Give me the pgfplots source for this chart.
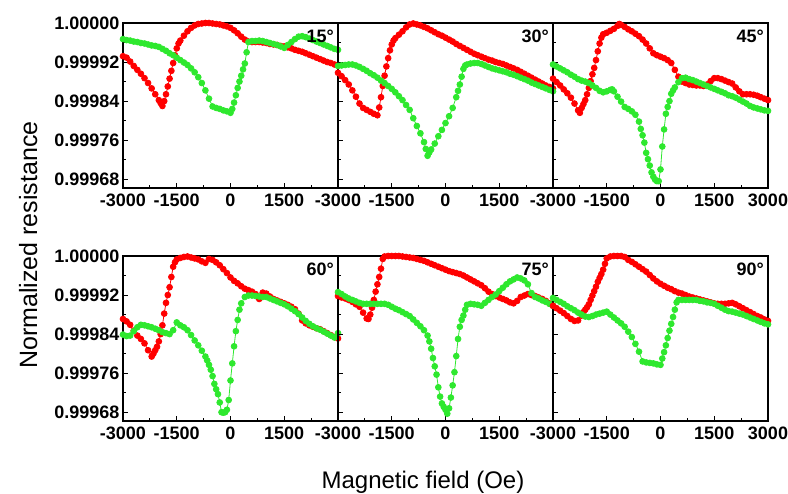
\documentclass[border=0pt]{standalone}
\usepackage{fontspec}
\setmainfont{Liberation Sans}
\usepackage{pgfplots}
\pgfplotsset{compat=1.18}
\definecolor{rr}{HTML}{FF0000}
\definecolor{gg}{HTML}{2EE82E}

% y values: (R - 1) in units of 1e-5, so 0 = 1.00000 and -8 = 0.99992
\pgfplotsset{
  panel/.style={scale only axis, width=215pt, height=165pt, anchor=south west,
    xmin=-3000, xmax=3000, ymin=-33.8, ymax=0,
    xtick={-3000,-1500,0,1500,3000}, minor x tick num=1,
    ytick={-32,-24,-16,-8,0}, minor y tick num=1,
    xticklabels={-3000,-1500,0,1500,{}}, yticklabels={},
    xtick pos=left, ytick pos=left, tick align=inside,
    major tick length=5pt, minor tick length=3pt,
    every tick/.style={black, line width=1pt},
    axis line style={line width=1.3pt},
    ticklabel style={font=\bfseries\fontsize{18}{18}\selectfont},
    xticklabel style={yshift=-2pt},
    every axis plot/.append style={line width=0.8pt, mark=*, mark size=2.9pt},
  },
  lefty/.style={yticklabels={0.99968,0.99976,0.99984,0.99992,1.00000}},
  rightx/.style={xticklabels={-3000,-1500,0,1500,3000}},
}
\tikzset{ang/.style={anchor=north east, inner sep=0pt, xshift=-4pt, yshift=-7pt,
    font=\bfseries\fontsize{18}{18}\selectfont}}

\begin{document}
\begin{tikzpicture}
\useasboundingbox (0pt,0pt) rectangle (788pt,494pt);

% 15 deg
\begin{axis}[panel, lefty, at={(123pt,306pt)}, name=p1]
\addplot[rr, mark options={fill=rr}] coordinates {(-3000,-6.8)(-2900,-7.1)(-2800,-7.9)(-2700,-8.8)(-2600,-9.6)(-2500,-10.4)(-2400,-11.3)(-2300,-12.3)(-2200,-13.4)(-2100,-14.6)(-2000,-15.8)(-1950,-16.4)(-1900,-17.0)(-1850,-16.0)(-1800,-14.6)(-1750,-13.0)(-1700,-11.4)(-1650,-9.8)(-1600,-8.2)(-1550,-6.6)(-1500,-5.2)(-1450,-4.2)(-1400,-3.6)(-1300,-2.6)(-1200,-1.7)(-1100,-1.0)(-1000,-0.5)(-900,-0.2)(-800,-0.1)(-700,0)(-600,0)(-500,-0.1)(-400,-0.2)(-300,-0.3)(-200,-0.5)(-100,-0.7)(0,-1.0)(100,-1.5)(200,-2.1)(300,-2.8)(400,-3.4)(500,-3.8)(600,-3.9)(700,-3.9)(800,-3.9)(900,-4.0)(1000,-4.1)(1100,-4.3)(1200,-4.4)(1300,-4.5)(1400,-4.7)(1500,-4.8)(1600,-5.0)(1700,-5.2)(1800,-5.5)(1900,-5.7)(2000,-5.9)(2100,-6.2)(2200,-6.5)(2300,-6.8)(2400,-7.1)(2500,-7.4)(2600,-7.7)(2700,-8.0)(2800,-8.2)(2900,-8.5)(3000,-8.7)};
\addplot[gg, mark options={fill=gg}] coordinates {(-3000,-3.3)(-2900,-3.5)(-2800,-3.6)(-2700,-3.8)(-2600,-3.9)(-2500,-4.1)(-2400,-4.2)(-2300,-4.4)(-2200,-4.6)(-2100,-4.7)(-2000,-4.9)(-1900,-5.3)(-1800,-5.7)(-1700,-6.2)(-1600,-6.6)(-1500,-7.1)(-1400,-7.6)(-1300,-8.1)(-1200,-8.6)(-1100,-9.3)(-1000,-10.1)(-900,-11.1)(-800,-12.3)(-700,-13.8)(-600,-15.5)(-500,-17.1)(-400,-17.4)(-300,-17.6)(-200,-17.9)(-100,-18.1)(0,-18.4)(50,-17.6)(100,-16.3)(150,-14.8)(200,-13.3)(250,-12.0)(300,-10.8)(350,-9.5)(400,-8.3)(450,-6.0)(500,-3.9)(600,-3.7)(700,-3.7)(800,-3.6)(900,-3.7)(1000,-3.9)(1100,-4.1)(1200,-4.3)(1300,-4.5)(1400,-4.8)(1500,-5.1)(1600,-4.5)(1700,-3.9)(1800,-3.3)(1900,-2.8)(2000,-2.7)(2100,-2.9)(2200,-3.2)(2300,-3.5)(2400,-3.8)(2500,-4.1)(2600,-4.4)(2700,-4.7)(2800,-5.0)(2900,-5.3)(3000,-5.5)};
\end{axis}

% 30 deg
\begin{axis}[panel, at={(338pt,306pt)}, name=p2]
\addplot[rr, mark options={fill=rr}] coordinates {(-3000,-10.2)(-2900,-10.9)(-2800,-11.7)(-2700,-12.6)(-2600,-13.8)(-2500,-15.1)(-2400,-16.5)(-2300,-17.4)(-2200,-17.8)(-2100,-18.2)(-2000,-18.6)(-1900,-18.9)(-1850,-17.3)(-1800,-15.2)(-1750,-12.9)(-1700,-10.8)(-1650,-8.9)(-1600,-7.2)(-1550,-5.6)(-1500,-4.4)(-1450,-3.6)(-1400,-3.1)(-1300,-2.4)(-1200,-1.7)(-1100,-0.9)(-1000,-0.3)(-900,-0.1)(-800,-0.3)(-700,-0.5)(-600,-0.8)(-500,-1.1)(-400,-1.5)(-300,-1.9)(-200,-2.3)(-100,-2.6)(0,-3.0)(100,-3.4)(200,-3.8)(300,-4.3)(400,-4.7)(500,-5.1)(600,-5.5)(700,-5.9)(800,-6.3)(900,-6.6)(1000,-6.9)(1100,-7.2)(1200,-7.5)(1300,-7.7)(1400,-8.0)(1500,-8.2)(1600,-8.4)(1700,-8.7)(1800,-9.0)(1900,-9.3)(2000,-9.6)(2100,-10.0)(2200,-10.4)(2300,-10.8)(2400,-11.2)(2500,-11.6)(2600,-12.0)(2700,-12.4)(2800,-12.8)(2900,-13.1)(3000,-13.4)};
\addplot[gg, mark options={fill=gg}] coordinates {(-3000,-8.8)(-2900,-8.7)(-2800,-8.6)(-2700,-8.5)(-2600,-8.5)(-2500,-8.7)(-2400,-9.0)(-2300,-9.4)(-2200,-9.8)(-2100,-10.3)(-2000,-10.7)(-1900,-11.2)(-1800,-11.8)(-1700,-12.3)(-1600,-12.9)(-1500,-13.5)(-1400,-14.2)(-1300,-15.0)(-1200,-15.8)(-1100,-16.8)(-1000,-17.8)(-900,-19.5)(-800,-21.1)(-700,-22.6)(-600,-24.4)(-550,-25.8)(-500,-27.2)(-450,-26.5)(-400,-25.9)(-300,-24.7)(-200,-23.2)(-100,-21.9)(0,-20.5)(100,-19.1)(200,-17.4)(300,-15.2)(350,-13.9)(400,-12.6)(450,-11.0)(500,-9.4)(550,-8.7)(600,-8.5)(700,-8.3)(800,-8.2)(900,-8.2)(1000,-8.4)(1100,-8.7)(1200,-9.0)(1300,-9.3)(1400,-9.5)(1500,-9.7)(1600,-9.9)(1700,-10.1)(1800,-10.4)(1900,-10.6)(2000,-10.9)(2100,-11.2)(2200,-11.5)(2300,-11.8)(2400,-12.2)(2500,-12.5)(2600,-12.8)(2700,-13.1)(2800,-13.4)(2900,-13.7)(3000,-14.0)};
\end{axis}

% 45 deg
\begin{axis}[panel, rightx, at={(553pt,306pt)}, name=p3]
\addplot[rr, mark options={fill=rr}] coordinates {(-3000,-11.4)(-2900,-12.1)(-2800,-12.8)(-2700,-13.6)(-2600,-14.4)(-2500,-15.3)(-2400,-16.5)(-2300,-17.9)(-2250,-18.4)(-2200,-17.4)(-2150,-16.6)(-2100,-15.8)(-2050,-14.6)(-2000,-13.3)(-1950,-11.9)(-1900,-10.5)(-1850,-9.2)(-1800,-7.6)(-1750,-5.8)(-1700,-4.2)(-1650,-3.0)(-1600,-2.3)(-1500,-2.0)(-1400,-1.6)(-1300,-1.2)(-1200,-0.6)(-1150,-0.2)(-1100,-0.4)(-1000,-0.8)(-900,-1.3)(-800,-1.7)(-700,-2.2)(-600,-2.7)(-500,-3.4)(-400,-4.2)(-300,-5.2)(-200,-6.2)(-100,-6.6)(0,-6.9)(100,-7.2)(200,-7.6)(300,-8.2)(400,-9.6)(500,-11.0)(600,-12.0)(700,-12.3)(800,-12.6)(900,-12.7)(1000,-12.8)(1100,-12.8)(1200,-12.9)(1300,-12.6)(1400,-11.9)(1500,-11.3)(1600,-11.3)(1700,-11.5)(1800,-11.8)(1900,-12.1)(2000,-12.4)(2100,-13.2)(2200,-14.0)(2300,-14.6)(2400,-14.6)(2500,-14.6)(2600,-14.7)(2700,-14.9)(2800,-15.2)(2900,-15.5)(3000,-15.8)};
\addplot[gg, mark options={fill=gg}] coordinates {(-3000,-8.5)(-2900,-8.9)(-2800,-9.3)(-2700,-9.7)(-2600,-10.1)(-2500,-10.6)(-2400,-11.0)(-2300,-11.5)(-2200,-11.8)(-2100,-12.0)(-2000,-12.3)(-1900,-12.8)(-1800,-13.3)(-1700,-13.9)(-1600,-14.2)(-1500,-14.0)(-1400,-13.7)(-1350,-13.6)(-1300,-14.0)(-1200,-15.1)(-1100,-16.1)(-1000,-17.2)(-900,-17.6)(-800,-18.1)(-700,-18.8)(-600,-20.2)(-550,-21.7)(-500,-23.0)(-450,-24.5)(-400,-26.6)(-350,-27.9)(-300,-29.2)(-250,-30.6)(-200,-31.5)(-150,-32.1)(-100,-32.4)(-50,-32.4)(0,-30.0)(50,-25.3)(100,-21.8)(150,-18.6)(200,-17.2)(250,-16.0)(300,-14.5)(350,-13.8)(400,-13.2)(500,-12.1)(600,-11.3)(700,-11.2)(800,-11.5)(900,-11.7)(1000,-12.0)(1100,-12.3)(1200,-12.6)(1300,-12.9)(1400,-13.2)(1500,-13.5)(1600,-13.8)(1700,-14.1)(1800,-14.4)(1900,-14.8)(2000,-15.0)(2100,-15.3)(2200,-15.7)(2300,-16.1)(2400,-16.5)(2500,-17.0)(2600,-17.3)(2700,-17.5)(2800,-17.7)(2900,-17.9)(3000,-18.0)};
\end{axis}

% 60 deg
\begin{axis}[panel, lefty, at={(123pt,73pt)}, name=p4]
\addplot[rr, mark options={fill=rr}] coordinates {(-3000,-12.9)(-2900,-13.4)(-2800,-14.1)(-2700,-15.3)(-2600,-16.3)(-2500,-17.0)(-2400,-17.9)(-2300,-19.3)(-2200,-20.6)(-2150,-20.0)(-2100,-19.3)(-2050,-18.6)(-2000,-17.5)(-1950,-16.0)(-1900,-14.2)(-1850,-11.8)(-1800,-9.6)(-1750,-8.0)(-1700,-6.4)(-1650,-4.3)(-1600,-2.2)(-1550,-1.3)(-1500,-0.7)(-1400,-0.4)(-1300,-0.2)(-1200,-0.1)(-1100,-0.3)(-1000,-0.5)(-900,-0.7)(-800,-1.1)(-700,-1.4)(-600,-0.6)(-500,-0.8)(-400,-1.3)(-300,-1.9)(-200,-2.7)(-100,-3.5)(0,-4.4)(100,-5.1)(200,-5.6)(300,-6.2)(400,-6.7)(500,-7.0)(600,-7.3)(700,-7.8)(800,-8.8)(900,-7.5)(1000,-7.7)(1100,-8.3)(1200,-8.8)(1300,-9.1)(1400,-9.4)(1500,-9.7)(1600,-10.0)(1700,-10.4)(1800,-10.9)(1900,-11.8)(2000,-13.2)(2100,-13.8)(2200,-14.2)(2300,-14.5)(2400,-14.8)(2500,-15.0)(2600,-15.4)(2700,-15.8)(2800,-16.2)(2900,-16.6)(3000,-16.9)};
\addplot[gg, mark options={fill=gg}] coordinates {(-3000,-16.1)(-2900,-16.4)(-2800,-16.3)(-2700,-15.4)(-2600,-14.6)(-2500,-14.1)(-2400,-14.2)(-2300,-14.4)(-2200,-14.6)(-2100,-14.9)(-2000,-15.2)(-1900,-15.6)(-1800,-15.8)(-1700,-16.0)(-1600,-15.2)(-1500,-13.6)(-1400,-14.2)(-1300,-14.6)(-1200,-15.2)(-1100,-16.2)(-1000,-17.3)(-900,-18.3)(-800,-19.4)(-700,-20.6)(-650,-21.4)(-600,-22.3)(-550,-23.3)(-500,-24.6)(-450,-26.2)(-400,-27.3)(-350,-28.3)(-300,-30.0)(-250,-32.0)(-200,-32.1)(-150,-32.0)(-100,-31.5)(-50,-29.5)(0,-25.5)(50,-22.0)(100,-18.5)(150,-15.4)(200,-13.1)(250,-11.0)(300,-9.7)(400,-8.4)(500,-8.1)(600,-8.1)(700,-8.2)(800,-8.3)(900,-8.4)(1000,-8.4)(1100,-8.7)(1200,-9.0)(1300,-9.3)(1400,-9.6)(1500,-9.9)(1600,-10.3)(1700,-10.8)(1800,-11.3)(1900,-11.9)(2000,-12.6)(2100,-13.3)(2200,-13.9)(2300,-14.4)(2400,-14.8)(2500,-15.1)(2600,-15.5)(2700,-15.9)(2800,-16.3)(2900,-16.7)(3000,-15.8)};
\end{axis}

% 75 deg
\begin{axis}[panel, at={(338pt,73pt)}, name=p5]
\addplot[rr, mark options={fill=rr}] coordinates {(-3000,-8.2)(-2900,-8.5)(-2800,-8.7)(-2700,-9.0)(-2600,-9.4)(-2500,-9.9)(-2400,-10.4)(-2300,-11.6)(-2200,-12.8)(-2150,-12.9)(-2100,-12.0)(-2050,-10.6)(-2000,-9.0)(-1950,-7.3)(-1900,-5.8)(-1850,-4.3)(-1800,-2.6)(-1750,-0.6)(-1700,-0.1)(-1600,0)(-1500,0)(-1400,0)(-1300,0)(-1200,-0.1)(-1100,-0.2)(-1000,-0.3)(-900,-0.4)(-800,-0.6)(-700,-0.8)(-600,-1.0)(-500,-1.3)(-400,-1.6)(-300,-1.9)(-200,-2.2)(-100,-2.5)(0,-2.8)(100,-3.1)(200,-3.3)(300,-3.5)(400,-3.7)(500,-4.0)(600,-4.4)(700,-4.8)(800,-5.2)(900,-5.6)(1000,-6.0)(1100,-6.6)(1200,-7.3)(1300,-7.8)(1400,-8.2)(1500,-8.5)(1600,-8.8)(1700,-9.1)(1800,-9.5)(1900,-9.7)(2000,-9.2)(2100,-8.4)(2200,-8.1)(2300,-7.8)(2400,-8.0)(2500,-8.2)(2600,-8.5)(2700,-8.8)(2800,-9.2)(2900,-9.7)(3000,-10.2)};
\addplot[gg, mark options={fill=gg}] coordinates {(-3000,-7.4)(-2900,-7.8)(-2800,-8.3)(-2700,-8.7)(-2600,-9.0)(-2500,-9.3)(-2400,-9.6)(-2300,-9.8)(-2200,-9.8)(-2100,-9.8)(-2000,-9.8)(-1900,-9.8)(-1800,-9.8)(-1700,-9.8)(-1600,-10.0)(-1500,-10.4)(-1400,-10.8)(-1300,-11.1)(-1200,-11.5)(-1100,-11.9)(-1000,-12.3)(-900,-13.0)(-800,-13.7)(-700,-14.4)(-600,-15.2)(-500,-16.3)(-450,-17.5)(-400,-19.0)(-350,-20.9)(-300,-22.6)(-250,-24.3)(-200,-26.9)(-150,-28.8)(-100,-30.2)(-50,-30.9)(0,-31.5)(50,-32.3)(100,-31.2)(150,-29.0)(200,-26.5)(250,-23.8)(300,-20.5)(350,-17.0)(400,-14.5)(450,-13.1)(500,-12.2)(550,-11.0)(600,-10.0)(700,-9.8)(800,-9.9)(900,-10.0)(1000,-10.2)(1100,-9.6)(1200,-9.0)(1300,-8.4)(1400,-7.9)(1500,-7.2)(1600,-6.5)(1700,-5.8)(1800,-5.2)(1900,-4.8)(2000,-4.4)(2100,-4.6)(2200,-5.0)(2300,-5.8)(2400,-7.6)(2500,-8.4)(2600,-8.7)(2700,-9.1)(2800,-9.4)(2900,-9.8)(3000,-10.2)};
\end{axis}

% 90 deg
\begin{axis}[panel, rightx, at={(553pt,73pt)}, name=p6]
\addplot[rr, mark options={fill=rr}] coordinates {(-3000,-10.2)(-2900,-10.7)(-2800,-11.2)(-2700,-11.7)(-2600,-12.3)(-2500,-12.9)(-2400,-13.3)(-2300,-13.2)(-2200,-12.2)(-2150,-11.5)(-2100,-11.0)(-2050,-10.5)(-2000,-9.9)(-1950,-9.0)(-1900,-8.1)(-1850,-7.2)(-1800,-6.3)(-1750,-5.3)(-1700,-4.5)(-1650,-3.7)(-1600,-2.8)(-1550,-1.6)(-1500,-0.5)(-1400,-0.1)(-1300,0)(-1200,0)(-1100,0)(-1000,-0.2)(-900,-0.8)(-800,-1.2)(-700,-1.7)(-600,-2.2)(-500,-2.7)(-400,-3.2)(-300,-3.9)(-200,-4.6)(-100,-5.2)(0,-5.7)(100,-6.1)(200,-6.5)(300,-6.8)(400,-7.2)(500,-7.5)(600,-7.7)(700,-8.0)(800,-8.3)(900,-8.5)(1000,-8.7)(1100,-8.9)(1200,-9.1)(1300,-9.3)(1400,-9.5)(1500,-9.7)(1600,-9.8)(1700,-9.8)(1800,-9.8)(1900,-9.7)(2000,-9.6)(2100,-9.9)(2200,-10.3)(2300,-10.7)(2400,-11.1)(2500,-11.5)(2600,-11.9)(2700,-12.3)(2800,-12.6)(2900,-13.0)(3000,-13.3)};
\addplot[gg, mark options={fill=gg}] coordinates {(-3000,-8.6)(-2900,-9.0)(-2800,-9.4)(-2700,-9.8)(-2600,-10.3)(-2500,-10.7)(-2400,-11.1)(-2300,-11.6)(-2200,-12.0)(-2100,-12.4)(-2000,-12.5)(-1900,-12.3)(-1800,-12.0)(-1700,-11.8)(-1600,-11.6)(-1500,-11.4)(-1400,-12.0)(-1300,-12.6)(-1200,-13.2)(-1100,-13.8)(-1000,-14.5)(-900,-15.5)(-800,-16.6)(-700,-18.0)(-600,-19.6)(-500,-21.6)(-400,-21.8)(-300,-21.9)(-200,-22.0)(-100,-22.2)(0,-22.3)(50,-21.0)(100,-19.7)(150,-18.3)(200,-16.8)(250,-15.3)(300,-13.9)(350,-12.5)(400,-11.0)(450,-9.5)(500,-9.0)(600,-9.0)(700,-9.0)(800,-9.0)(900,-9.0)(1000,-9.0)(1100,-9.2)(1200,-9.3)(1300,-9.5)(1400,-9.6)(1500,-9.8)(1600,-10.2)(1700,-10.6)(1800,-11.0)(1900,-11.3)(2000,-11.4)(2100,-11.6)(2200,-11.8)(2300,-12.0)(2400,-12.3)(2500,-12.6)(2600,-12.9)(2700,-13.2)(2800,-13.5)(2900,-13.8)(3000,-14.0)};
\end{axis}

\node[ang] at (p1.north east) {15°};
\node[ang] at (p2.north east) {30°};
\node[ang] at (p3.north east) {45°};
\node[ang] at (p4.north east) {60°};
\node[ang] at (p5.north east) {75°};
\node[ang] at (p6.north east) {90°};

\node[rotate=90, anchor=base, font=\fontsize{25}{25}\selectfont] at (37pt,249pt) {Normalized resistance};
\node[anchor=base, font=\fontsize{24}{24}\selectfont] at (423pt,5pt) {Magnetic field (Oe)};
\end{tikzpicture}
\end{document}
